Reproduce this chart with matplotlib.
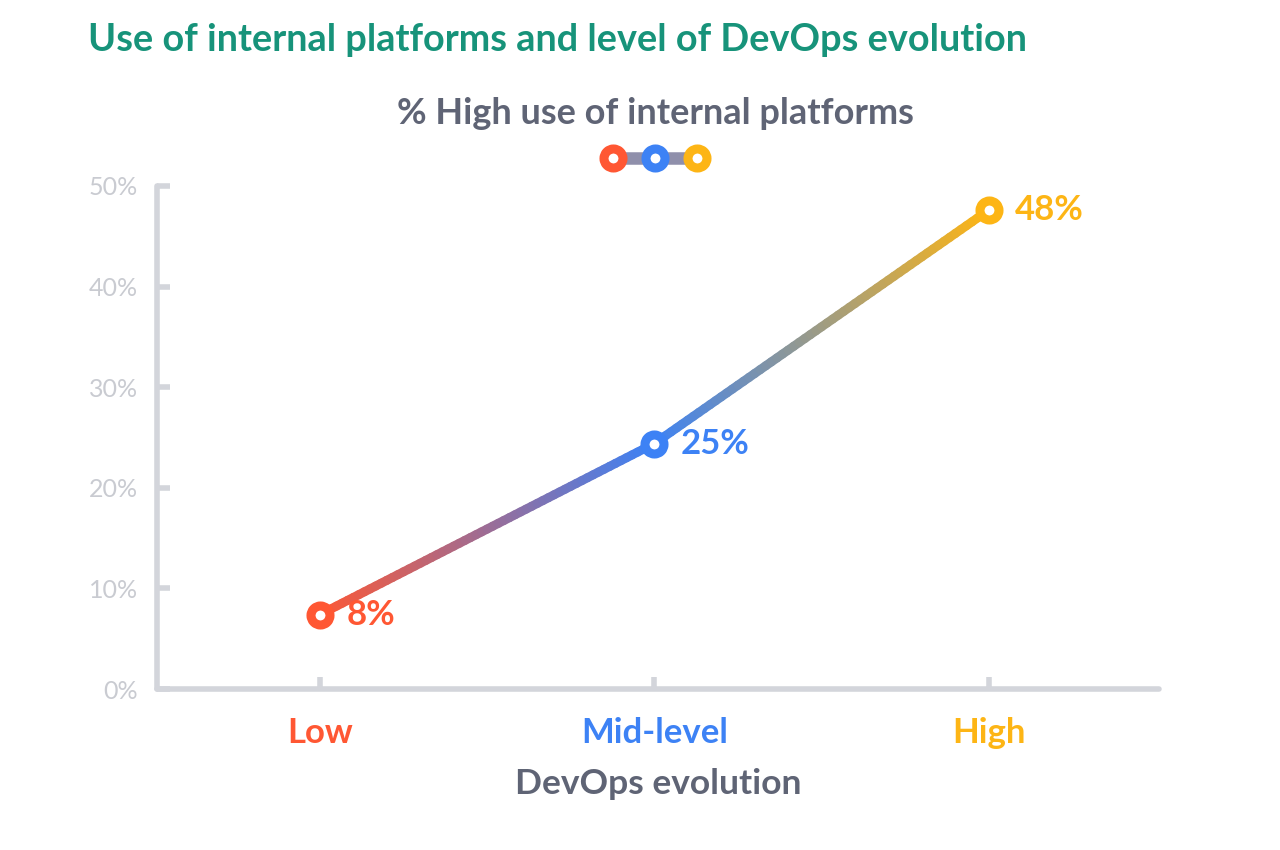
import numpy as np
import matplotlib.pyplot as plt
from matplotlib.collections import LineCollection
from matplotlib.colors import to_rgb

plt.rcParams["font.family"] = ["Lato", "DejaVu Sans"]

TITLE = "Use of internal platforms and level of DevOps evolution"
SUBTITLE = "% High use of internal platforms"
XLABEL = "DevOps evolution"
CATEGORIES = ["Low", "Mid-level", "High"]
VALUES = [7.4, 24.4, 47.6]
VALUE_LABELS = ["8%", "25%", "48%"]
COLORS = ["#ff5733", "#3d82f5", "#fdb515"]
YTICKS = [0, 10, 20, 30, 40, 50]

GREY_AXIS = "#d3d5db"
GREY_TICK = "#c9cbd1"
GREY_TEXT = "#5f6475"
TITLE_GREEN = "#17937a"


def gradient_line(ax, xs, ys, colors, n=60, lw=6.5):
    segs, cols = [], []
    for i in range(len(xs) - 1):
        c0, c1 = np.array(to_rgb(colors[i])), np.array(to_rgb(colors[i + 1]))
        t = np.linspace(0, 1, n + 1)
        px = xs[i] + (xs[i + 1] - xs[i]) * t
        py = ys[i] + (ys[i + 1] - ys[i]) * t
        for k in range(n):
            segs.append([(px[k], py[k]), (px[k + 1], py[k + 1])])
            f = (k + 0.5) / n
            cols.append(c0 * (1 - f) + c1 * f)
    lc = LineCollection(segs, colors=cols, linewidths=lw, capstyle="round", zorder=3)
    ax.add_collection(lc)


fig = plt.figure(figsize=(12.8, 8.5), dpi=100)
ax = fig.add_axes([0.1227, 0.1894, 0.783, 0.5918])

x = np.arange(len(CATEGORIES))
gradient_line(ax, x, VALUES, COLORS)
for xi, v, c, lab in zip(x, VALUES, COLORS, VALUE_LABELS):
    ax.plot(xi, v, "o", ms=13.7, mfc="white", mec=c, mew=6.5, zorder=4)
    ax.annotate(lab, (xi, v), xytext=(19, 0), textcoords="offset points",
                ha="left", va="center", color=c, fontsize=25, fontweight="bold")

ax.set_xlim(-0.487, 2.51)
ax.set_ylim(0, 50)
ax.set_yticks(YTICKS)
ax.set_yticklabels([f"{t}%" for t in YTICKS])
ax.set_xticks(x)
ax.set_xticklabels(CATEGORIES)
for lbl, c in zip(ax.get_xticklabels(), COLORS):
    lbl.set_color(c)
    lbl.set_fontweight("bold")
    lbl.set_fontsize(25)

for s in ["top", "right"]:
    ax.spines[s].set_visible(False)
for s in ["left", "bottom"]:
    ax.spines[s].set_color(GREY_AXIS)
    ax.spines[s].set_linewidth(4)
    ax.spines[s].set_capstyle("round")
ax.tick_params(axis="y", direction="in", length=9, width=4, color=GREY_AXIS,
               labelcolor=GREY_TICK, labelsize=18, pad=14)
ax.tick_params(axis="x", direction="in", length=9, width=4, color=GREY_AXIS, pad=20)
ax.set_xlabel(XLABEL, fontsize=25.5, fontweight="bold", color=GREY_TEXT, labelpad=14)

fig.text(0.069, 0.953, TITLE, fontsize=27.3, fontweight="bold", color=TITLE_GREEN,
         ha="left", va="center")
fig.text(0.512, 0.867, SUBTITLE, fontsize=26, fontweight="bold", color=GREY_TEXT,
         ha="center", va="center")

# legend marker: three rings joined by a grey bar
lax = fig.add_axes([0.4543, 0.794, 0.115, 0.04])
lax.set_xlim(-0.75, 2.75)
lax.set_ylim(-1, 1)
lax.axis("off")
lax.plot(x, [0] * len(x), color="#8f8fab", lw=9, zorder=1)
for xi, c in zip(x, COLORS):
    lax.plot(xi, 0, "o", ms=13.7, mfc="white", mec=c, mew=6.5, zorder=2)

fig.savefig("out.png", dpi=100, facecolor="white")
